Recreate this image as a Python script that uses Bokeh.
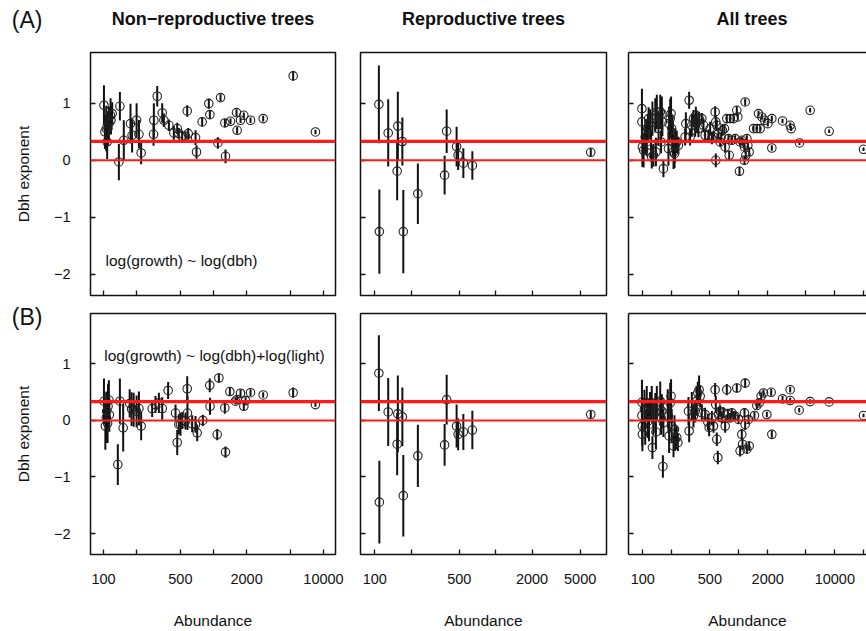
from bokeh.plotting import figure
from bokeh.models import Range1d, FixedTicker, Span, Label, LinearAxis, ColumnDataSource
from bokeh.layouts import gridplot
from bokeh.embed import file_html
from bokeh.resources import INLINE

FONT = "Liberation Sans"
MINUS = "\u2212"
NBSP = "\u00a0"

# ---------------- data ----------------
col_titles = ["Non\u2212reproductive trees", "Reproductive trees", "All trees"]
row_tags = ["(A)", "(B)"]
model_notes = ["log(growth) ~ log(dbh)", "log(growth) ~ log(dbh)+log(light)"]
ref_lines = [1 / 3, 0.0]

# Non-reproductive trees, model A
nonrep_A_abund = [101, 103, 106, 108, 110, 116, 117, 112, 120, 138, 141, 153, 176, 182, 200, 210, 220,
                  287, 285, 308, 342, 354, 393, 436, 468, 484, 519, 557, 577, 589, 687, 701, 789, 907,
                  927, 1096, 1159, 1269, 1286, 1428, 1619, 1641, 1761, 1887, 2171, 2831, 5300, 8453]
nonrep_A_exp = [0.965, 0.50, 0.557, 0.322, 0.56, 0.789, 0.702, 0.643, 0.819, -0.029, 0.947, 0.351, 0.643,
                0.439, 0.702, 0.456, 0.129, 0.702, 0.456, 1.123, 0.830, 0.702, 0.614, 0.480, 0.557,
                0.468, 0.421, 0.421, 0.865, 0.468, 0.398, 0.146, 0.673, 0.994, 0.801, 0.304, 1.099,
                0.655, 0.070, 0.684, 0.836, 0.526, 0.702, 0.789, 0.702, 0.731, 1.480, 0.497]
nonrep_A_err = [0.35, 0.30, 0.40, 0.30, 0.30, 0.30, 0.25, 0.30, 0.20, 0.32, 0.25, 0.35, 0.35, 0.30, 0.30,
                0.25, 0.20, 0.30, 0.20, 0.18, 0.17, 0.12, 0.10, 0.12, 0.10, 0.10, 0.10, 0.08, 0.10,
                0.10, 0.13, 0.12, 0.08, 0.09, 0.07, 0.10, 0.06, 0.07, 0.12, 0.05, 0.06, 0.06, 0.05,
                0.05, 0.05, 0.05, 0.08, 0.04]

# Reproductive trees
rep_abund = [108, 109, 129, 155, 153, 169, 172, 227, 378, 393, 475, 489, 540, 641, 6120]
rep_A_exp = [0.98, -1.25, 0.48, 0.60, -0.19, 0.33, -1.25, -0.585, -0.26, 0.51, 0.24, 0.09, -0.05, -0.09, 0.14]
rep_A_err = [0.68, 0.74, 0.59, 0.60, 0.51, 0.42, 0.73, 0.53, 0.34, 0.38, 0.35, 0.26, 0.26, 0.25, 0.07]
rep_B_exp = [0.835, -1.445, 0.15, 0.116, -0.42, 0.064, -1.33, -0.626, -0.433, 0.368, -0.10, -0.246,
             -0.205, -0.17, 0.105]
rep_B_err = [0.67, 0.73, 0.60, 0.68, 0.55, 0.52, 0.72, 0.55, 0.37, 0.44, 0.38, 0.28, 0.32, 0.34, 0.06]

# Non-reproductive trees, model B
nonrep_B_abund = [101, 104, 106, 107, 109, 110, 112, 113, 135, 141, 151, 173, 180, 188, 200, 210, 220,
                  277, 297, 319, 342, 387, 452, 468, 484, 501, 519, 557, 577, 580, 640, 686, 711, 800,
                  925, 930, 1081, 1119, 1268, 1286, 1409, 1585, 1641, 1761, 1887, 1960, 2171, 2831,
                  5300, 8453]
nonrep_B_exp = [0.34, -0.10, 0.05, 0.16, -0.05, 0.25, 0.36, 0.10, -0.78, 0.34, -0.13, 0.30, 0.20, 0.19,
                0.16, 0.21, -0.10, 0.21, 0.28, 0.31, 0.21, 0.53, 0.13, -0.39, -0.07, -0.07, 0.00,
                -0.01, 0.56, 0.13, -0.06, -0.07, -0.22, 0.00, 0.62, 0.25, -0.25, 0.75, 0.22, -0.56,
                0.51, 0.34, 0.37, 0.48, 0.25, 0.35, 0.49, 0.45, 0.49, 0.28]
nonrep_B_err = [0.40, 0.42, 0.45, 0.35, 0.35, 0.40, 0.35, 0.30, 0.36, 0.40, 0.42, 0.25, 0.30, 0.30,
                0.28, 0.30, 0.25, 0.15, 0.15, 0.18, 0.20, 0.15, 0.15, 0.22, 0.18, 0.20, 0.15, 0.15,
                0.22, 0.30, 0.15, 0.15, 0.15, 0.10, 0.12, 0.15, 0.10, 0.08, 0.10, 0.10, 0.08, 0.06,
                0.06, 0.07, 0.07, 0.06, 0.06, 0.05, 0.09, 0.04]

# All trees, model A
all_A_abund = [98, 98, 99, 102, 106, 108, 110, 113, 115, 119, 122, 124, 126, 129, 135, 137, 140, 146,
               152, 155, 158, 160, 164, 185, 188, 193, 197, 200, 204, 205, 209, 214, 217, 226, 235,
               276, 281, 304, 311, 324, 337, 351, 357, 365, 380, 386, 412, 429, 446, 483, 503, 524,
               545, 567, 576, 590, 576, 614, 639, 655, 676, 709, 721, 750, 781, 794, 813, 846, 880,
               916, 953, 977, 1016, 1032, 1075, 1119, 1146, 1146, 1165, 1184, 1213, 1242, 1282, 1422,
               1541, 1604, 1670, 1738, 1854, 2006, 2208, 2208, 2853, 3428, 3510, 4285, 5535, 8730,
               19900]
all_A_exp = [0.906, 0.673, 0.234, 0.175, 0.409, 0.468, 0.322, 0.556, 0.731, 0.643, 0.263, 0.058, 0.731,
             0.088, 0.789, 0.146, 0.848, 0.556, 0.848, 0.322, 0.819, 0.673, -0.146, 0.205, 0.643,
             0.731, 0.819, 0.556, 0.468, 0.380, 0.146, 0.117, 0.263, 0.322, 0.263, 0.409, 0.643,
             1.053, 0.409, 0.614, 0.731, 0.614, 0.789, 0.673, 0.556, 0.731, 0.731, 0.614, 0.439,
             0.439, 0.556, 0.380, 0.409, 0.848, 0.673, 0.614, 0.000, 0.468, 0.322, 0.409, 0.526,
             0.556, 0.234, 0.731, 0.380, 0.088, 0.731, 0.351, 0.731, 0.380, 0.877, 0.760, -0.193,
             0.322, 0.351, 0.292, 0.000, 0.234, 1.023, 0.088, 0.380, 0.263, 0.146, 0.556, 0.556,
             0.819, 0.556, 0.760, 0.702, 0.643, 0.731, 0.216, 0.690, 0.614, 0.556, 0.304, 0.877,
             0.509, 0.193]
all_A_err = [0.35, 0.30, 0.35, 0.30, 0.30, 0.25, 0.25, 0.25, 0.20, 0.25, 0.25, 0.20, 0.30, 0.20, 0.30,
             0.25, 0.30, 0.30, 0.30, 0.20, 0.30, 0.25, 0.15, 0.30, 0.30, 0.35, 0.30, 0.25, 0.30, 0.30,
             0.30, 0.25, 0.30, 0.20, 0.15, 0.15, 0.20, 0.15, 0.15, 0.20, 0.15, 0.20, 0.15, 0.20, 0.15,
             0.12, 0.10, 0.12, 0.10, 0.10, 0.12, 0.10, 0.10, 0.10, 0.12, 0.10, 0.12, 0.10, 0.08, 0.08,
             0.10, 0.08, 0.10, 0.08, 0.08, 0.08, 0.07, 0.07, 0.07, 0.06, 0.07, 0.06, 0.08, 0.06, 0.06,
             0.06, 0.08, 0.07, 0.06, 0.07, 0.06, 0.06, 0.07, 0.05, 0.05, 0.05, 0.05, 0.05, 0.05, 0.05,
             0.05, 0.05, 0.04, 0.05, 0.04, 0.04, 0.04, 0.03, 0.03]

# All trees, model B
all_B_abund = [98, 98, 99, 99, 104, 106, 110, 113, 115, 116, 119, 124, 126, 129, 135, 137, 140, 152,
               155, 158, 162, 164, 182, 185, 188, 193, 197, 200, 209, 214, 217, 226, 232, 299, 304,
               324, 337, 351, 365, 374, 386, 396, 412, 446, 476, 491, 524, 545, 567, 576, 590, 605,
               614, 639, 665, 693, 721, 750, 769, 813, 846, 880, 916, 953, 993, 1032, 1075, 1093,
               1146, 1165, 1165, 1213, 1262, 1282, 1456, 1541, 1630, 1710, 1808, 1959, 2175, 2208,
               2853, 3428, 3428, 4254, 5535, 8730, 19900]
all_B_exp = [0.321, 0.088, -0.100, -0.246, 0.193, -0.129, 0.310, -0.012, 0.134, -0.070, 0.251, 0.310,
             -0.480, 0.046, 0.134, -0.205, 0.310, 0.339, 0.046, 0.163, -0.814, -0.041, 0.251, 0.076,
             -0.275, 0.310, 0.427, -0.100, -0.451, -0.158, -0.334, -0.304, -0.392, 0.163, -0.187,
             0.251, 0.076, 0.163, 0.339, 0.485, 0.543, 0.427, 0.134, 0.105, -0.030, -0.129, 0.046,
             -0.100, 0.543, 0.280, -0.334, -0.656, 0.105, 0.163, 0.046, 0.134, -0.100, 0.543, 0.105,
             0.046, 0.134, 0.076, 0.076, 0.572, 0.017, -0.538, -0.246, -0.421, 0.134, 0.660, -0.070,
             -0.509, 0.017, -0.451, 0.088, 0.263, 0.310, 0.427, 0.485, 0.105, 0.497, -0.246, 0.380,
             0.543, 0.351, 0.181, 0.333, 0.327, 0.088]
all_B_err = [0.40, 0.30, 0.35, 0.30, 0.35, 0.30, 0.30, 0.30, 0.25, 0.30, 0.25, 0.30, 0.20, 0.30, 0.35,
             0.30, 0.30, 0.35, 0.30, 0.30, 0.20, 0.25, 0.30, 0.30, 0.30, 0.35, 0.30, 0.30, 0.20, 0.25,
             0.20, 0.20, 0.15, 0.25, 0.20, 0.25, 0.20, 0.20, 0.25, 0.20, 0.25, 0.20, 0.15, 0.12, 0.15,
             0.15, 0.12, 0.12, 0.12, 0.15, 0.12, 0.12, 0.12, 0.10, 0.10, 0.10, 0.12, 0.10, 0.10, 0.08,
             0.08, 0.08, 0.08, 0.08, 0.08, 0.10, 0.10, 0.10, 0.08, 0.08, 0.10, 0.08, 0.08, 0.08, 0.06,
             0.06, 0.06, 0.06, 0.06, 0.05, 0.06, 0.06, 0.05, 0.05, 0.05, 0.04, 0.04, 0.03, 0.03]

# axis ticks
x_ticks = [[100, 200, 500, 1000, 2000, 5000, 10000],
           [100, 200, 500, 1000, 2000, 5000],
           [100, 200, 500, 1000, 2000, 5000, 10000, 20000]]
x_tick_labels = [["100", "", "500", "", "2000", "", "10000"],
                 ["100", "", "500", "", "2000", "5000"],
                 ["100", "", "500", "", "2000", "", "10000", ""]]
x_limits = [(76.2, 12860), (76.1, 8260), (71.0, 21380)]
y_ticks = [-2, -1, 0, 1]
y_tick_labels = [MINUS + "2", MINUS + "1", "0", "1"]
y_limits = (-2.37, 1.89)
x_label = "Abundance"
y_label = "Dbh exponent"

panels = [
    [(nonrep_A_abund, nonrep_A_exp, nonrep_A_err),
     (rep_abund, rep_A_exp, rep_A_err),
     (all_A_abund, all_A_exp, all_A_err)],
    [(nonrep_B_abund, nonrep_B_exp, nonrep_B_err),
     (rep_abund, rep_B_exp, rep_B_err),
     (all_B_abund, all_B_exp, all_B_err)],
]

# ---------------- layout (px) ----------------
col_w = [347, 270, 249]
col_bl = [90, 13, 11]
col_br = [12, 11, 0]
row_h = [300, 331]
row_bt = [52, 13]
row_bb = [5, 76]

TICK_FS = "14.5px"
LAB_FS = "15.5px"

# the row tags sit on an outer left axis; three blank lines below each lift it to the panel's corner
tag_anchor = [1.78, 1.265]
tag_text = [tag + ("\n" + NBSP) * 3 for tag in row_tags]
note_pos = [(512, -1.75), (1021, 1.146)]


def style_ticks(ax):
    ax.major_tick_in = 5
    ax.major_tick_out = 0
    ax.minor_tick_in = 0
    ax.minor_tick_out = 0
    ax.major_tick_line_color = "#111111"
    ax.major_tick_line_width = 1.3
    ax.major_label_text_font = FONT
    ax.major_label_text_color = "#111111"


def hide_labels(ax):
    ax.major_label_text_font_size = "0px"
    ax.major_label_text_color = None
    ax.major_label_standoff = 0


def make_panel(r, c):
    abund, expo, err = panels[r][c]
    p = figure(width=col_w[c], height=row_h[r], x_axis_type="log",
               x_range=Range1d(*x_limits[c]), y_range=Range1d(*y_limits),
               output_backend="svg", toolbar_location=None,
               min_border_left=col_bl[c], min_border_right=col_br[c],
               min_border_top=row_bt[r], min_border_bottom=row_bb[r])
    p.grid.visible = False
    p.background_fill_color = "white"
    p.border_fill_color = "white"

    if c < 2:
        p.outline_line_color = "#111111"
        p.outline_line_width = 1.5
        p.outline_line_alpha = 1.0
        axis_line = None
    else:
        p.outline_line_color = None
        axis_line = "#111111"

    # x axis
    xa = p.xaxis[0]
    xa.ticker = FixedTicker(ticks=x_ticks[c], minor_ticks=[])
    xa.major_label_overrides = {t: lab for t, lab in zip(x_ticks[c], x_tick_labels[c])}
    style_ticks(xa)
    xa.axis_line_color = axis_line
    xa.axis_line_width = 1.5
    if r == 1:
        xa.major_label_text_font_size = TICK_FS
        xa.major_label_standoff = 19
        xa.axis_label = x_label
        xa.axis_label_text_font = FONT
        xa.axis_label_text_font_size = LAB_FS
        xa.axis_label_text_font_style = "normal"
        xa.axis_label_text_color = "#111111"
        xa.axis_label_standoff = 25
    else:
        hide_labels(xa)

    # y axis
    ya = p.yaxis[0]
    ya.ticker = FixedTicker(ticks=y_ticks, minor_ticks=[])
    ya.major_label_overrides = {t: lab for t, lab in zip(y_ticks, y_tick_labels)}
    ya.major_label_orientation = "horizontal"
    style_ticks(ya)
    ya.axis_line_color = axis_line
    ya.axis_line_width = 1.5
    if c == 0:
        ya.major_label_text_font_size = TICK_FS
        ya.major_label_standoff = 20
    else:
        hide_labels(ya)

    if c == 0:
        # outer left axis: carries the row tag and the y-axis title
        tv = tag_anchor[r]
        outer = LinearAxis(ticker=FixedTicker(ticks=[tv], minor_ticks=[]),
                           major_label_overrides={tv: tag_text[r]},
                           major_label_orientation="horizontal",
                           major_label_text_font=FONT, major_label_text_font_size="23px",
                           major_label_text_color="#111111", major_label_text_line_height=1.0,
                           major_label_standoff=8,
                           major_tick_in=0, major_tick_out=0, minor_tick_in=0, minor_tick_out=0,
                           axis_line_color=None,
                           axis_label=y_label, axis_label_text_font=FONT,
                           axis_label_text_font_size=LAB_FS, axis_label_text_font_style="normal",
                           axis_label_text_color="#111111", axis_label_standoff=-23)
        p.add_layout(outer, "left")

    if c == 2:
        top = LinearAxis(ticker=FixedTicker(ticks=[], minor_ticks=[]),
                         major_label_text_font_size="0px", major_label_text_color=None,
                         major_label_standoff=0, major_tick_in=0, major_tick_out=0,
                         minor_tick_in=0, minor_tick_out=0,
                         axis_line_color="#111111", axis_line_width=1.5)
        p.add_layout(top, "above")

    # column titles (a blank second line lifts the title well above the frame)
    if r == 0:
        p.title.text = col_titles[c] + "\n" + NBSP
        p.title.text_font = FONT
        p.title.text_font_size = "18px"
        p.title.text_font_style = "bold"
        p.title.text_color = "#111111"
        p.title.standoff = 8
        if c == 2:
            p.title.align = "left"
            p.title.offset = 88
        else:
            p.title.align = "center"

    # reference lines
    p.add_layout(Span(location=ref_lines[0], dimension="width", line_color="#ff1a1a", line_width=3.2))
    p.add_layout(Span(location=ref_lines[1], dimension="width", line_color="#ff1a1a", line_width=2))

    src = ColumnDataSource(dict(
        x=abund, y=expo,
        lo=[v - e for v, e in zip(expo, err)],
        hi=[v + e for v, e in zip(expo, err)]))
    p.segment(x0="x", y0="lo", x1="x", y1="hi", source=src, line_color="#111111", line_width=2)
    p.scatter(x="x", y="y", source=src, marker="circle", size=8.5, fill_color=None,
              line_color="#222222", line_width=1.1)

    if c == 0:
        nx, ny = note_pos[r]
        p.add_layout(Label(x=nx, y=ny, text=model_notes[r], text_font=FONT,
                           text_font_size=LAB_FS, text_color="#111111",
                           text_align="center", text_baseline="middle"))
    return p


grid = [[make_panel(r, c) for c in range(3)] for r in range(2)]
layout = gridplot(grid, toolbar_location=None)

open("out.html", "w").write(file_html(layout, INLINE))
